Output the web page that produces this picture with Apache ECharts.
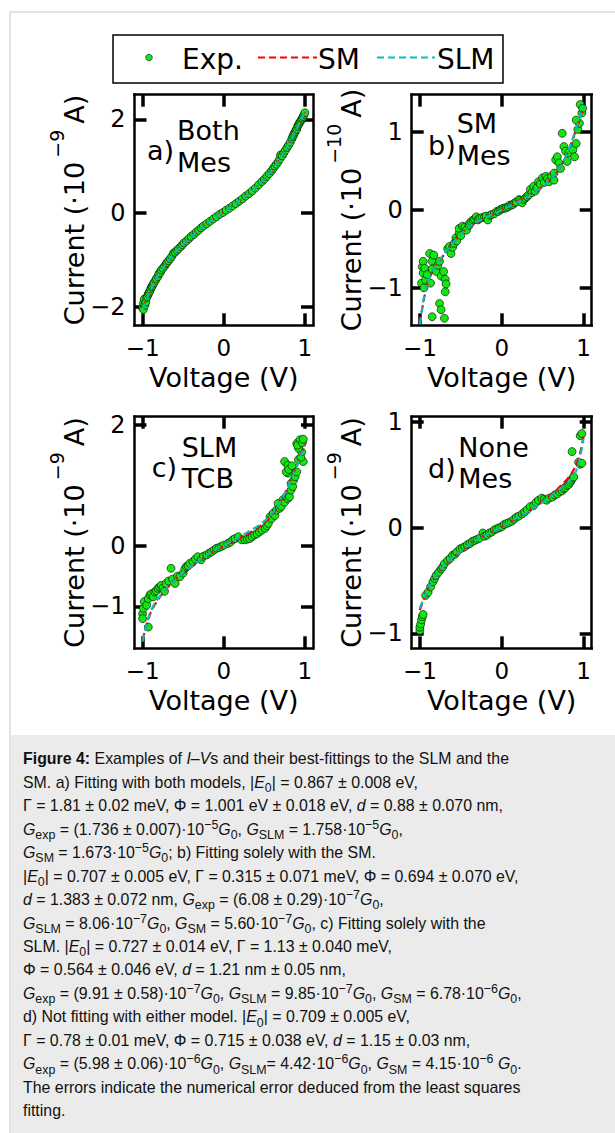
<!DOCTYPE html>
<html><head><meta charset="utf-8">
<script src="https://cdn.jsdelivr.net/npm/echarts@6/dist/echarts.min.js"></script>
<style>
html,body{margin:0;padding:0;background:#fff;width:615px;height:1133px;overflow:hidden;position:relative;}
#frame{position:absolute;left:9px;top:11px;width:620px;height:1130px;border:2px solid #e2e2e2;box-sizing:border-box;}
#chart{position:absolute;left:0;top:0;width:615px;height:735px;}
#cap{position:absolute;left:11px;top:735px;width:604px;height:398px;background:#ebebeb;box-sizing:border-box;}
#capText{position:absolute;left:12px;top:12.4px;font-family:'Liberation Sans',Arial,sans-serif;font-size:17px;line-height:23.45px;color:#111;white-space:nowrap;transform:scaleX(0.935);transform-origin:0 0;}
#capText sub,#capText sup{font-size:0.78em;line-height:0;position:relative;vertical-align:baseline;}
#capText sub{top:0.32em}
#capText sup{top:-0.45em}
</style>
</head><body>
<div id="frame"></div>
<div id="chart"></div>
<div id="cap"><div id="capText"><b>Figure 4:</b> Examples of <i>I</i>–<i>V</i>s and their best-fittings to the SLM and the<br>SM. a) Fitting with both models, |<i>E</i><sub>0</sub>| = 0.867 ± 0.008 eV,<br>Γ = 1.81 ± 0.02 meV, Φ = 1.001 eV ± 0.018 eV, <i>d</i> = 0.88 ± 0.070 nm,<br><i>G</i><sub>exp</sub> = (1.736 ± 0.007)·10<sup>−5</sup><i>G</i><sub>0</sub>, <i>G</i><sub>SLM</sub> = 1.758·10<sup>−5</sup><i>G</i><sub>0</sub>,<br><i>G</i><sub>SM</sub> = 1.673·10<sup>−5</sup><i>G</i><sub>0</sub>; b) Fitting solely with the SM.<br>|<i>E</i><sub>0</sub>| = 0.707 ± 0.005 eV, Γ = 0.315 ± 0.071 meV, Φ = 0.694 ± 0.070 eV,<br><i>d</i> = 1.383 ± 0.072 nm, <i>G</i><sub>exp</sub> = (6.08 ± 0.29)·10<sup>−7</sup><i>G</i><sub>0</sub>,<br><i>G</i><sub>SLM</sub> = 8.06·10<sup>−7</sup><i>G</i><sub>0</sub>, <i>G</i><sub>SM</sub> = 5.60·10<sup>−7</sup><i>G</i><sub>0</sub>, c) Fitting solely with the<br>SLM. |<i>E</i><sub>0</sub>| = 0.727 ± 0.014 eV, Γ = 1.13 ± 0.040 meV,<br>Φ = 0.564 ± 0.046 eV, <i>d</i> = 1.21 nm ± 0.05 nm,<br><i>G</i><sub>exp</sub> = (9.91 ± 0.58)·10<sup>−7</sup><i>G</i><sub>0</sub>, <i>G</i><sub>SLM</sub> = 9.85·10<sup>−7</sup><i>G</i><sub>0</sub>, <i>G</i><sub>SM</sub> = 6.78·10<sup>−6</sup><i>G</i><sub>0</sub>,<br>d) Not fitting with either model. |<i>E</i><sub>0</sub>| = 0.709 ± 0.005 eV,<br>Γ = 0.78 ± 0.01 meV, Φ = 0.715 ± 0.038 eV, <i>d</i> = 1.15 ± 0.03 nm,<br><i>G</i><sub>exp</sub> = (5.98 ± 0.06)·10<sup>−6</sup><i>G</i><sub>0</sub>, <i>G</i><sub>SLM</sub>= 4.42·10<sup>−6</sup><i>G</i><sub>0</sub>, <i>G</i><sub>SM</sub> = 4.15·10<sup>−6</sup> <i>G</i><sub>0</sub>.<br>The errors indicate the numerical error deduced from the least squares<br>fitting.</div></div>
<script>
// ---------- DATA ----------
const xTicks = [-1, 0, 1];
const yTicksA = [-2, 0, 2];
const yTicksB = [-1, 0, 1];
const yTicksC = [-1, 0, 2];
const yTicksD = [-1, 0, 1];
const seriesNames = ['Exp.', 'SM', 'SLM'];
const panelTags = ['a)', 'b)', 'c)', 'd)'];
const panelLine1 = ['Both', 'SM', 'SLM', 'None'];
const panelLine2 = ['Mes', 'Mes', 'TCB', 'Mes'];
const yExponents = ['−9', '−10', '−9', '−9'];

const fitV = [-1.00,-0.95,-0.90,-0.85,-0.80,-0.75,-0.70,-0.65,-0.60,-0.55,-0.50,-0.45,-0.40,-0.35,-0.30,-0.25,-0.20,-0.15,-0.10,-0.05,0.00,0.05,0.10,0.15,0.20,0.25,0.30,0.35,0.40,0.45,0.50,0.55,0.60,0.65,0.70,0.75,0.80,0.85,0.90,0.95,1.00];

const smA  = [-2.05,-1.83,-1.64,-1.47,-1.32,-1.19,-1.07,-0.96,-0.86,-0.76,-0.67,-0.59,-0.51,-0.43,-0.36,-0.29,-0.22,-0.16,-0.10,-0.04,0.02,0.08,0.14,0.20,0.26,0.33,0.40,0.47,0.55,0.63,0.72,0.82,0.93,1.05,1.18,1.32,1.47,1.63,1.80,1.97,2.15];
const slmA = [-2.07,-1.84,-1.64,-1.47,-1.32,-1.18,-1.06,-0.95,-0.85,-0.76,-0.67,-0.59,-0.51,-0.43,-0.36,-0.29,-0.22,-0.16,-0.10,-0.04,0.02,0.08,0.14,0.20,0.27,0.33,0.40,0.47,0.55,0.63,0.72,0.82,0.93,1.05,1.18,1.32,1.47,1.63,1.80,1.98,2.16];

const smB  = [-1.45,-1.14,-0.93,-0.80,-0.71,-0.64,-0.57,-0.50,-0.44,-0.37,-0.31,-0.26,-0.22,-0.19,-0.16,-0.13,-0.11,-0.08,-0.06,-0.03,0.00,0.03,0.05,0.08,0.11,0.14,0.17,0.20,0.23,0.26,0.30,0.34,0.39,0.45,0.52,0.61,0.72,0.85,1.00,1.15,1.32];
const slmB = [-1.47,-1.12,-0.92,-0.80,-0.71,-0.63,-0.56,-0.50,-0.43,-0.37,-0.31,-0.26,-0.22,-0.18,-0.15,-0.13,-0.10,-0.08,-0.05,-0.03,0.00,0.03,0.05,0.08,0.10,0.13,0.16,0.19,0.22,0.26,0.30,0.34,0.39,0.45,0.52,0.61,0.72,0.86,1.01,1.16,1.34];

const smC  = [-1.55,-1.30,-1.10,-0.97,-0.87,-0.78,-0.70,-0.63,-0.56,-0.50,-0.45,-0.40,-0.35,-0.30,-0.25,-0.20,-0.15,-0.11,-0.07,-0.03,0.00,0.03,0.06,0.10,0.13,0.17,0.20,0.24,0.28,0.33,0.38,0.44,0.52,0.61,0.72,0.85,1.00,1.16,1.32,1.50,1.68];
const slmC = [-1.58,-1.28,-1.08,-0.95,-0.85,-0.77,-0.69,-0.62,-0.56,-0.50,-0.44,-0.39,-0.34,-0.29,-0.24,-0.19,-0.15,-0.10,-0.06,-0.02,0.01,0.04,0.07,0.11,0.15,0.19,0.23,0.27,0.31,0.36,0.41,0.47,0.54,0.63,0.73,0.86,1.00,1.15,1.31,1.48,1.66];

const smD  = [-0.78,-0.67,-0.58,-0.51,-0.45,-0.40,-0.36,-0.32,-0.28,-0.25,-0.22,-0.19,-0.16,-0.13,-0.11,-0.09,-0.07,-0.05,-0.03,-0.01,0.01,0.03,0.05,0.08,0.10,0.12,0.14,0.17,0.19,0.22,0.25,0.28,0.31,0.34,0.38,0.42,0.46,0.51,0.58,0.68,0.86];
const slmD = [-0.76,-0.66,-0.58,-0.51,-0.45,-0.40,-0.36,-0.32,-0.28,-0.25,-0.22,-0.19,-0.16,-0.13,-0.11,-0.09,-0.07,-0.05,-0.03,-0.01,0.01,0.03,0.05,0.08,0.10,0.12,0.14,0.17,0.19,0.22,0.24,0.27,0.30,0.33,0.36,0.39,0.42,0.46,0.52,0.64,0.84];

const expA = [[-1.00,-2.03],[-0.99,-1.93],[-0.99,-2.06],[-0.98,-1.84],[-0.97,-1.97],[-0.96,-1.90],[-0.95,-1.81],[-0.94,-1.78],[-0.93,-1.73],[-0.92,-1.70],[-0.91,-1.67],[-0.90,-1.62],[-0.89,-1.58],[-0.88,-1.56],[-0.87,-1.52],[-0.86,-1.49],[-0.84,-1.44],[-0.83,-1.40],[-0.81,-1.36],[-0.80,-1.30],[-0.78,-1.27],[-0.77,-1.22],[-0.75,-1.18],[-0.73,-1.14],[-0.71,-1.09],[-0.70,-1.06],[-0.68,-1.02],[-0.66,-0.98],[-0.64,-0.93],[-0.62,-0.86],[-0.60,-0.84],[-0.58,-0.80],[-0.56,-0.77],[-0.53,-0.72],[-0.51,-0.68],[-0.49,-0.64],[-0.46,-0.60],[-0.43,-0.55],[-0.40,-0.50],[-0.37,-0.46],[-0.34,-0.41],[-0.31,-0.37],[-0.28,-0.32],[-0.25,-0.28],[-0.21,-0.23],[-0.17,-0.18],[-0.13,-0.13],[-0.09,-0.08],[-0.05,-0.03],[-0.01,0.01],[0.03,0.06],[0.07,0.10],[0.11,0.15],[0.15,0.20],[0.19,0.25],[0.23,0.30],[0.27,0.36],[0.31,0.41],[0.35,0.47],[0.39,0.53],[0.43,0.60],[0.47,0.67],[0.50,0.72],[0.53,0.78],[0.56,0.84],[0.59,0.90],[0.61,0.95],[0.63,1.00],[0.65,1.04],[0.67,1.09],[0.69,1.15],[0.70,1.24],[0.72,1.22],[0.74,1.28],[0.76,1.34],[0.78,1.40],[0.80,1.45],[0.82,1.51],[0.84,1.58],[0.85,1.63],[0.86,1.66],[0.87,1.70],[0.88,1.73],[0.89,1.77],[0.90,1.79],[0.91,1.85],[0.92,1.88],[0.93,1.91],[0.94,1.94],[0.95,1.97],[0.96,2.00],[0.97,2.03],[0.98,2.06],[0.99,2.10],[1.00,2.14]];

const expB = [[-0.98,-0.94],[-0.97,-0.73],[-0.96,-0.66],[-0.96,-0.81],[-0.95,-1.00],[-0.94,-0.75],[-0.93,-0.90],[-0.91,-0.83],[-0.88,-0.56],[-0.87,-0.94],[-0.85,-0.66],[-0.85,-0.76],[-0.85,-1.37],[-0.83,-0.58],[-0.80,-0.79],[-0.78,-0.71],[-0.76,-0.66],[-0.76,-1.20],[-0.74,-0.85],[-0.74,-1.28],[-0.71,-0.79],[-0.70,-1.39],[-0.69,-0.89],[-0.69,-1.05],[-0.68,-0.95],[-0.66,-0.50],[-0.64,-0.47],[-0.62,-0.56],[-0.60,-0.48],[-0.58,-0.43],[-0.56,-0.36],[-0.55,-0.40],[-0.52,-0.30],[-0.52,-0.24],[-0.50,-0.33],[-0.48,-0.21],[-0.45,-0.22],[-0.43,-0.26],[-0.40,-0.20],[-0.39,-0.17],[-0.37,-0.15],[-0.35,-0.13],[-0.33,-0.12],[-0.31,-0.09],[-0.29,-0.13],[-0.27,-0.11],[-0.24,-0.10],[-0.21,-0.09],[-0.19,-0.08],[-0.17,-0.13],[-0.14,-0.07],[-0.12,-0.06],[-0.09,-0.05],[-0.06,-0.02],[-0.04,-0.02],[-0.02,0.00],[0.00,0.01],[0.02,0.02],[0.04,0.02],[0.06,0.03],[0.08,0.04],[0.10,0.06],[0.12,0.06],[0.14,0.07],[0.16,0.09],[0.18,0.10],[0.21,0.13],[0.23,0.12],[0.25,0.09],[0.27,0.13],[0.29,0.15],[0.31,0.17],[0.33,0.19],[0.35,0.26],[0.37,0.22],[0.39,0.30],[0.41,0.24],[0.43,0.28],[0.45,0.36],[0.47,0.33],[0.50,0.41],[0.52,0.35],[0.54,0.43],[0.56,0.40],[0.58,0.36],[0.61,0.43],[0.64,0.38],[0.64,0.47],[0.66,0.64],[0.68,0.68],[0.70,0.60],[0.72,0.53],[0.74,0.98],[0.76,0.81],[0.78,0.75],[0.80,0.62],[0.82,0.73],[0.87,0.77],[0.89,0.68],[0.91,0.85],[0.93,1.03],[0.95,1.11],[0.91,1.15],[0.98,1.24],[0.96,1.35],[0.99,1.30]];

const expC = [[-1.00,-1.12],[-1.00,-1.20],[-0.99,-1.03],[-0.98,-0.92],[-0.95,-0.98],[-0.93,-0.87],[-0.93,-1.34],[-0.91,-0.81],[-0.89,-0.79],[-0.87,-0.84],[-0.85,-0.76],[-0.83,-0.74],[-0.81,-0.70],[-0.79,-0.68],[-0.77,-0.65],[-0.75,-0.70],[-0.73,-0.75],[-0.71,-0.62],[-0.68,-0.58],[-0.65,-0.37],[-0.63,-0.55],[-0.60,-0.62],[-0.57,-0.50],[-0.54,-0.51],[-0.50,-0.45],[-0.48,-0.38],[-0.46,-0.34],[-0.44,-0.33],[-0.42,-0.29],[-0.38,-0.26],[-0.35,-0.22],[-0.32,-0.18],[-0.28,-0.23],[-0.25,-0.17],[-0.21,-0.15],[-0.18,-0.12],[-0.15,-0.10],[-0.12,-0.07],[-0.09,-0.04],[-0.06,-0.03],[-0.03,-0.01],[0.00,0.01],[0.05,0.04],[0.08,0.06],[0.11,0.10],[0.14,0.12],[0.18,0.15],[0.22,0.10],[0.26,0.10],[0.29,0.11],[0.32,0.12],[0.35,0.15],[0.38,0.18],[0.41,0.20],[0.44,0.23],[0.47,0.26],[0.51,0.29],[0.53,0.33],[0.55,0.37],[0.57,0.48],[0.59,0.45],[0.61,0.54],[0.63,0.50],[0.65,0.59],[0.67,0.70],[0.69,0.62],[0.71,0.65],[0.73,0.76],[0.75,0.72],[0.77,0.81],[0.79,0.78],[0.81,0.81],[0.83,0.92],[0.83,1.03],[0.85,0.98],[0.86,1.08],[0.88,1.14],[0.79,1.20],[0.75,1.39],[0.79,1.33],[0.83,1.28],[0.77,1.22],[0.80,1.26],[0.84,1.32],[0.90,1.22],[0.92,1.42],[0.98,1.39],[0.95,1.46],[0.96,1.55],[0.92,1.61],[0.90,1.69],[0.91,1.66],[0.94,1.75],[0.97,1.70],[0.98,1.76]];

const expD = [[-1.00,-0.97],[-1.00,-0.94],[-0.99,-0.91],[-0.98,-0.87],[-0.97,-0.84],[-0.96,-0.82],[-0.93,-0.64],[-0.90,-0.61],[-0.87,-0.56],[-0.84,-0.51],[-0.82,-0.48],[-0.80,-0.45],[-0.77,-0.42],[-0.74,-0.39],[-0.72,-0.37],[-0.70,-0.34],[-0.66,-0.31],[-0.63,-0.29],[-0.60,-0.26],[-0.57,-0.25],[-0.55,-0.23],[-0.51,-0.20],[-0.48,-0.19],[-0.45,-0.18],[-0.42,-0.16],[-0.39,-0.15],[-0.36,-0.13],[-0.33,-0.12],[-0.30,-0.11],[-0.27,-0.10],[-0.23,-0.05],[-0.21,-0.08],[-0.18,-0.07],[-0.15,-0.05],[-0.12,-0.04],[-0.09,-0.02],[-0.06,-0.01],[-0.03,0.00],[0.00,0.01],[0.03,0.03],[0.06,0.04],[0.09,0.05],[0.12,0.06],[0.15,0.08],[0.18,0.10],[0.21,0.11],[0.25,0.13],[0.28,0.15],[0.31,0.17],[0.35,0.20],[0.39,0.21],[0.42,0.24],[0.45,0.26],[0.49,0.28],[0.52,0.27],[0.55,0.26],[0.58,0.28],[0.62,0.29],[0.65,0.31],[0.68,0.32],[0.71,0.34],[0.74,0.35],[0.76,0.37],[0.78,0.38],[0.80,0.40],[0.82,0.41],[0.84,0.43],[0.85,0.45],[0.87,0.47],[0.88,0.48],[0.86,0.72],[0.94,0.62],[0.96,0.60],[0.98,0.61],[0.96,0.87],[0.98,0.89]];

// ---------- LAYOUT (pixels / styles) ----------
const FONT = 'DejaVu Sans';
const layout = [
  {grid:{left:134.5, top:94.7, width:178.5, height:230.6}, yMin:-2.40, yMax:2.525, tag:[147,150.3], l1:[177,130.3], l2:[177,162]},
  {grid:{left:411.7, top:94.7, width:180, height:230.6}, yMin:-1.48, yMax:1.475, tag:[428,145.5], l1:[456.7,123.8], l2:[456.7,155.5]},
  {grid:{left:134.5, top:416.7, width:178.5, height:231.6}, yMin:-1.69, yMax:2.13, tag:[151.7,467], l1:[181.7,447], l2:[181.7,478.6]},
  {grid:{left:411.7, top:416.7, width:180, height:231.6}, yMin:-1.14, yMax:1.05, tag:[428,468.6], l1:[458.3,447], l2:[458.3,478.6]}
];
const legendBox = {x:113, y:35, w:390, h:48};
const legendItems = [{mark:[120,178], text:182}, {mark:[258,317], text:318}, {mark:[377,435], text:437}];
const yTickSets = [yTicksA, yTicksB, yTicksC, yTicksD];
const smSets = [smA, smB, smC, smD];
const slmSets = [slmA, slmB, slmC, slmD];
const expSets = [expA, expB, expC, expD];

const GREEN = '#14e614', RED = '#ff0000', CYAN = '#00bfbf';
const DASH = [7, 4];
const fmt = v => (v < 0 ? '−' : '') + Math.abs(v);
const axisLine = {show:true, onZero:false, lineStyle:{color:'#000', width:2.5, cap:'square'}};
const tick = vals => ({show:true, inside:true, length:12, customValues: vals, lineStyle:{color:'#000', width:3.5}});

const grids = [], xAxes = [], yAxes = [], series = [], graphics = [];
layout.forEach((L, i) => {
  grids.push(Object.assign({containLabel:false, outerBoundsMode:'none'}, L.grid));
  xAxes.push({type:'value', gridIndex:i, position:'bottom', min:-1.1, max:1.1,
    axisLine, axisTick:tick(xTicks), splitLine:{show:false},
    axisLabel:{show:true, customValues:xTicks, formatter:fmt, margin:11, fontSize:23, lineHeight:23, fontFamily:FONT, color:'#000'},
    name:'Voltage (V)', nameLocation:'middle', nameGap:39, nameMoveOverlap:false,
    nameTextStyle:{fontSize:27, lineHeight:27, fontFamily:FONT, color:'#000'}});
  xAxes.push({type:'value', gridIndex:i, position:'top', min:-1.1, max:1.1,
    axisLine, axisTick:tick(xTicks), splitLine:{show:false}, axisLabel:{show:false}});
  yAxes.push({type:'value', gridIndex:i, position:'left', min:L.yMin, max:L.yMax,
    axisLine, axisTick:tick(yTickSets[i]), splitLine:{show:false},
    axisLabel:{show:true, customValues:yTickSets[i], formatter:fmt, margin:9, fontSize:24, fontFamily:FONT, color:'#000'},
    name:'{m|Current (·10}{s|' + yExponents[i] + '}{m|A)}', nameLocation:'middle', nameGap:45, nameRotate:90, nameMoveOverlap:false,
    nameTextStyle:{fontSize:27, fontFamily:FONT, color:'#000',
      rich:{m:{fontSize:27, fontFamily:FONT, color:'#000', lineHeight:30, verticalAlign:'middle'},
            s:{fontSize:19, fontFamily:FONT, color:'#000', lineHeight:30, verticalAlign:'middle', padding:[0,6,36,4]}}}});
  yAxes.push({type:'value', gridIndex:i, position:'right', min:L.yMin, max:L.yMax,
    axisLine, axisTick:tick(yTickSets[i]), splitLine:{show:false}, axisLabel:{show:false}});

  series.push({name:seriesNames[0], type:'scatter', xAxisIndex:2*i, yAxisIndex:2*i, z:2,
    data:expSets[i], symbol:'circle', symbolSize:8,
    itemStyle:{color:GREEN, borderColor:'#000', borderWidth:0.6, opacity:1}});
  series.push({name:seriesNames[1], type:'line', xAxisIndex:2*i, yAxisIndex:2*i, z:3,
    data:fitV.map((v, k) => [v, smSets[i][k]]), symbol:'none', smooth:0.3,
    lineStyle:{color:RED, width:2.2, type:DASH}, itemStyle:{color:RED}});
  series.push({name:seriesNames[2], type:'line', xAxisIndex:2*i, yAxisIndex:2*i, z:4,
    data:fitV.map((v, k) => [v, slmSets[i][k]]), symbol:'none', smooth:0.3,
    lineStyle:{color:CYAN, width:2.2, type:DASH}, itemStyle:{color:CYAN}});

  const tf = '27px "' + FONT + '"';
  graphics.push({type:'text', x:L.tag[0], y:L.tag[1], style:{text:panelTags[i], font:tf, fill:'#000', verticalAlign:'middle'}});
  graphics.push({type:'text', x:L.l1[0], y:L.l1[1], style:{text:panelLine1[i], font:tf, fill:'#000', verticalAlign:'middle'}});
  graphics.push({type:'text', x:L.l2[0], y:L.l2[1], style:{text:panelLine2[i], font:tf, fill:'#000', verticalAlign:'middle'}});
});

// legend box (drawn as graphic so the markers sit where the reference has them)
const ly = legendBox.y + legendBox.h / 2;
const lf = '28px "' + FONT + '"';
graphics.push({type:'rect', shape:{x:legendBox.x, y:legendBox.y, width:legendBox.w, height:legendBox.h}, style:{fill:'#fff', stroke:'#000', lineWidth:1.5}, z:10});
graphics.push({type:'circle', shape:{cx:(legendItems[0].mark[0] + legendItems[0].mark[1]) / 2, cy:ly - 1.5, r:3.3}, style:{fill:GREEN, stroke:'#000', lineWidth:0.6}, z:11});
graphics.push({type:'line', shape:{x1:legendItems[1].mark[0], y1:ly - 1.5, x2:legendItems[1].mark[1], y2:ly - 1.5}, style:{stroke:RED, lineWidth:2, lineDash:DASH}, z:11});
graphics.push({type:'line', shape:{x1:legendItems[2].mark[0], y1:ly - 1.5, x2:legendItems[2].mark[1], y2:ly - 1.5}, style:{stroke:CYAN, lineWidth:2, lineDash:DASH}, z:11});
seriesNames.forEach((n, k) => {
  graphics.push({type:'text', x:legendItems[k].text, y:ly, style:{text:n, font:lf, fill:'#000', verticalAlign:'middle'}, z:11});
});

const chart = echarts.init(document.getElementById('chart'), null, {renderer:'svg'});
chart.setOption({
  animation:false,
  backgroundColor:'transparent',
  textStyle:{fontFamily:FONT},
  grid:grids, xAxis:xAxes, yAxis:yAxes, series:series, graphic:graphics
});
</script>
</body></html>
